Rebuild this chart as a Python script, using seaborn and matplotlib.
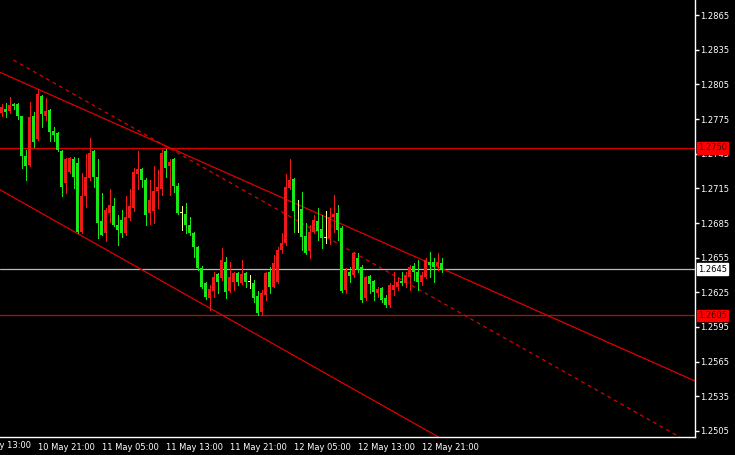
import numpy as np
import pandas as pd
import matplotlib
matplotlib.use("Agg")
import matplotlib.pyplot as plt
import matplotlib.transforms as mtransforms
import seaborn as sns

# 30 minute bars
opens = [
    1.2780, 1.2784, 1.2782, 1.2788, 1.2788, 1.2778, 1.2743, 1.2735, 1.2778, 1.2758,
    1.2795, 1.2778, 1.2783, 1.2765, 1.2763, 1.2747, 1.2720, 1.2729, 1.2740, 1.2737,
    1.2677, 1.2708, 1.2724, 1.2747, 1.2725, 1.2687, 1.2676, 1.2694, 1.2700, 1.2683,
    1.2688, 1.2676, 1.2689, 1.2698, 1.2727, 1.2732, 1.2722, 1.2694, 1.2695, 1.2713,
    1.2714, 1.2747, 1.2734, 1.2740, 1.2717, 1.2694, 1.2693, 1.2683, 1.2676, 1.2664,
    1.2646, 1.2633, 1.2620, 1.2626, 1.2641, 1.2637, 1.2651, 1.2626, 1.2634, 1.2642,
    1.2633, 1.2642, 1.2634, 1.2633, 1.2622, 1.2608, 1.2623, 1.2643, 1.2630, 1.2634,
    1.2662, 1.2668, 1.2715, 1.2723, 1.2696, 1.2697, 1.2674, 1.2661, 1.2677, 1.2687,
    1.2680, 1.2672, 1.2672, 1.2690, 1.2694, 1.2681, 1.2627, 1.2643, 1.2640, 1.2655,
    1.2647, 1.2620, 1.2639, 1.2635, 1.2624, 1.2629, 1.2620, 1.2614, 1.2627, 1.2630,
    1.2635, 1.2633, 1.2638, 1.2648, 1.2643, 1.2634, 1.2638, 1.2651, 1.2651, 1.2648,
    1.2650]
highs = [
    1.2788, 1.2789, 1.2794, 1.2789, 1.2789, 1.2778, 1.2748, 1.2790, 1.2781, 1.2801,
    1.2796, 1.2793, 1.2784, 1.2768, 1.2764, 1.2748, 1.2741, 1.2742, 1.2742, 1.2741,
    1.2728, 1.2745, 1.2759, 1.2748, 1.2740, 1.2711, 1.2698, 1.2714, 1.2707, 1.2692,
    1.2696, 1.2708, 1.2714, 1.2733, 1.2747, 1.2733, 1.2724, 1.2722, 1.2734, 1.2731,
    1.2748, 1.2749, 1.2740, 1.2741, 1.2720, 1.2700, 1.2702, 1.2690, 1.2677, 1.2665,
    1.2648, 1.2634, 1.2631, 1.2643, 1.2642, 1.2663, 1.2656, 1.2651, 1.2643, 1.2643,
    1.2653, 1.2643, 1.2640, 1.2636, 1.2626, 1.2627, 1.2643, 1.2647, 1.2657, 1.2664,
    1.2676, 1.2727, 1.2740, 1.2724, 1.2705, 1.2712, 1.2685, 1.2683, 1.2692, 1.2698,
    1.2692, 1.2695, 1.2698, 1.2709, 1.2701, 1.2682, 1.2646, 1.2647, 1.2660, 1.2659,
    1.2649, 1.2639, 1.2640, 1.2636, 1.2630, 1.2630, 1.2623, 1.2633, 1.2643, 1.2638,
    1.2643, 1.2643, 1.2649, 1.2650, 1.2653, 1.2643, 1.2655, 1.2660, 1.2655, 1.2659,
    1.2655]
lows = [
    1.2778, 1.2777, 1.2780, 1.2784, 1.2775, 1.2733, 1.2722, 1.2734, 1.2751, 1.2757,
    1.2768, 1.2774, 1.2756, 1.2756, 1.2747, 1.2708, 1.2711, 1.2728, 1.2715, 1.2676,
    1.2676, 1.2699, 1.2722, 1.2716, 1.2672, 1.2675, 1.2669, 1.2686, 1.2682, 1.2666,
    1.2673, 1.2675, 1.2688, 1.2695, 1.2714, 1.2716, 1.2683, 1.2684, 1.2685, 1.2698,
    1.2709, 1.2725, 1.2709, 1.2712, 1.2693, 1.2679, 1.2676, 1.2675, 1.2656, 1.2644,
    1.2629, 1.2619, 1.2610, 1.2621, 1.2624, 1.2636, 1.2620, 1.2625, 1.2627, 1.2631,
    1.2632, 1.2630, 1.2629, 1.2617, 1.2605, 1.2605, 1.2618, 1.2624, 1.2630, 1.2633,
    1.2659, 1.2666, 1.2714, 1.2677, 1.2677, 1.2662, 1.2658, 1.2655, 1.2676, 1.2670,
    1.2663, 1.2668, 1.2667, 1.2677, 1.2670, 1.2625, 1.2624, 1.2634, 1.2638, 1.2643,
    1.2617, 1.2618, 1.2624, 1.2618, 1.2621, 1.2617, 1.2612, 1.2612, 1.2623, 1.2627,
    1.2631, 1.2630, 1.2627, 1.2636, 1.2627, 1.2631, 1.2637, 1.2638, 1.2634, 1.2644,
    1.2643]
closes = [
    1.2785, 1.2781, 1.2787, 1.2786, 1.2778, 1.2743, 1.2734, 1.2777, 1.2755, 1.2797,
    1.2779, 1.2782, 1.2764, 1.2761, 1.2748, 1.2716, 1.2740, 1.2741, 1.2725, 1.2677,
    1.2708, 1.2725, 1.2746, 1.2725, 1.2685, 1.2675, 1.2696, 1.2701, 1.2683, 1.2679,
    1.2676, 1.2690, 1.2700, 1.2729, 1.2732, 1.2722, 1.2692, 1.2705, 1.2713, 1.2716,
    1.2746, 1.2733, 1.2738, 1.2717, 1.2694, 1.2694, 1.2683, 1.2676, 1.2664, 1.2646,
    1.2630, 1.2621, 1.2628, 1.2638, 1.2634, 1.2653, 1.2625, 1.2638, 1.2642, 1.2634,
    1.2641, 1.2634, 1.2634, 1.2620, 1.2607, 1.2624, 1.2642, 1.2630, 1.2650, 1.2662,
    1.2668, 1.2716, 1.2722, 1.2695, 1.2696, 1.2673, 1.2659, 1.2677, 1.2688, 1.2678,
    1.2672, 1.2672, 1.2690, 1.2693, 1.2679, 1.2626, 1.2644, 1.2639, 1.2659, 1.2644,
    1.2618, 1.2638, 1.2632, 1.2625, 1.2628, 1.2618, 1.2614, 1.2631, 1.2631, 1.2634,
    1.2633, 1.2640, 1.2647, 1.2643, 1.2634, 1.2640, 1.2653, 1.2649, 1.2647, 1.2651,
    1.2645]

first_bar = "2010-05-10 16:30"
tick_times = ["2010-05-10 13:00", "2010-05-10 21:00", "2010-05-11 05:00", "2010-05-11 13:00",
              "2010-05-11 21:00", "2010-05-12 05:00", "2010-05-12 13:00", "2010-05-12 21:00"]

# trend lines: two anchor points each (bar, price)
upper_line = [(9, 1.2801), (105, 1.26534)]
middle_line = [(3, 1.2826), (100, 1.2636)]
lower_line = [(0, 1.27130), (56, 1.26037)]
levels = [1.2750, 1.2605]
bid = 1.2645

price_ticks = [1.2505, 1.2535, 1.2565, 1.2595, 1.2625, 1.2655, 1.2685,
               1.2715, 1.2745, 1.2775, 1.2805, 1.2835, 1.2865]

bull = "#ee1a1a"
bear = "#18e818"
doji_col = "#ffff90"
line_red = "#dd0000"

sns.set_theme(style="dark", rc={"axes.facecolor": "black", "figure.facecolor": "black",
                                "axes.grid": False})
plt.rcParams["font.family"] = ["DejaVu Sans"]

df = pd.DataFrame({"open": opens, "high": highs, "low": lows, "close": closes})
df["time"] = pd.date_range(first_bar, periods=len(df), freq="30min")
df["bar"] = np.arange(len(df))

fig = plt.figure(figsize=(7.35, 4.55), dpi=100)
ax = fig.add_axes([0, 18 / 455, 695 / 735, 437 / 455])

col = np.where(df["close"] > df["open"], bull, np.where(df["close"] < df["open"], bear, doji_col))

ax.vlines(df["bar"], df["low"], df["high"], colors=col, linewidth=0.72, antialiased=False, zorder=3)
body = (df["close"] - df["open"]).abs().clip(lower=0.00006)
ax.bar(df["bar"], body, bottom=df[["open", "close"]].min(axis=1), width=0.8,
       color=col, linewidth=0, antialiased=False, zorder=4)

for lv in levels:
    ax.axhline(lv, color=line_red, lw=0.9, zorder=2)
ax.axhline(bid, color="#b8b8b8", lw=0.9, zorder=2)

x_end = 180
for pts, ls, x0 in [(upper_line, "-", -2), (lower_line, "-", -2), (middle_line, (0, (3, 3)), 3)]:
    (xa, ya), (xb, yb) = pts
    slope = (yb - ya) / (xb - xa)
    xs = np.array([x0, x_end])
    ys = ya + slope * (xs - xa)
    sns.lineplot(x=xs, y=ys, ax=ax, color=line_red, linewidth=0.9, linestyle=ls, zorder=2)

ax.set_xlim(-0.375, -0.375 + 695 / 4)
ax.set_ylim(1.24998, 1.28780)

for s in ["left", "top"]:
    ax.spines[s].set_visible(False)
for s in ["right", "bottom"]:
    ax.spines[s].set_color("white")
    ax.spines[s].set_linewidth(1)

ax.yaxis.tick_right()
ax.set_yticks(price_ticks)
ax.set_yticklabels([f"{p:.4f}" for p in price_ticks])
ax.tick_params(axis="y", colors="white", length=3, width=1, pad=1, labelsize=6, direction="out")

t0 = df["time"].iloc[0]
tick_pos = [(pd.Timestamp(t) - t0) / pd.Timedelta("30min") for t in tick_times]
tick_txt = [pd.Timestamp(t).strftime("%d %b %H:%M") for t in tick_times]
ax.set_xticks(tick_pos[1:])
ax.set_xticklabels(tick_txt[1:])
ax.tick_params(axis="x", colors="white", length=3, width=1, pad=1, labelsize=6, direction="out")
for lab in ax.get_xticklabels():
    lab.set_horizontalalignment("left")
ax.annotate(tick_txt[0], xy=(tick_pos[0], 0), xycoords=("data", "axes fraction"),
            xytext=(0, -3.2), textcoords="offset points", ha="left", va="top",
            color="white", fontsize=6, annotation_clip=False)
ax.set_xlabel("")
ax.set_ylabel("")

trans = mtransforms.blended_transform_factory(ax.transAxes, ax.transData)
for lv, fc, tc in [(levels[0], "#ff0000", "#3a0000"), (levels[1], "#ff0000", "#3a0000"),
                   (bid, "white", "black")]:
    ax.text(1.004, lv, f"{lv:.4f}", transform=trans, ha="left", va="center", fontsize=6,
            color=tc, clip_on=False, zorder=10,
            bbox=dict(boxstyle="square,pad=0.15", facecolor=fc, edgecolor=fc))

fig.savefig("out.png", dpi=100, facecolor="black")
